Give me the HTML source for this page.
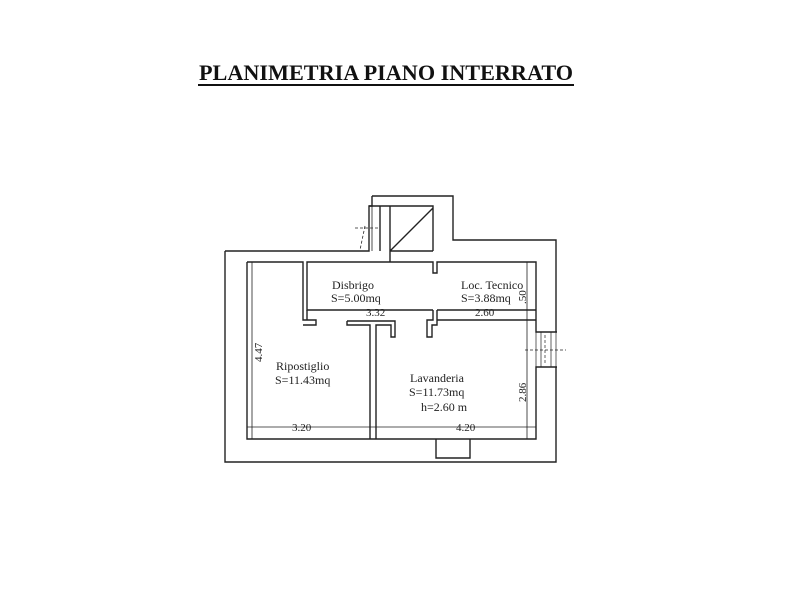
<!DOCTYPE html>
<html><head><meta charset="utf-8"><style>
html,body{margin:0;padding:0;background:#fff;}
svg{display:block}
</style></head><body>
<svg width="800" height="594" viewBox="0 0 800 594" xmlns="http://www.w3.org/2000/svg">
<rect width="800" height="594" fill="#fff"/>
<text x="199" y="80" font-family="Liberation Serif, serif" font-weight="bold" font-size="22" textLength="374" lengthAdjust="spacingAndGlyphs" fill="#111">PLANIMETRIA PIANO INTERRATO</text>
<rect x="198" y="84" width="376" height="2" fill="#111"/>
<g fill="none" stroke="#222" stroke-width="1.4">
<path d="M225 251 L369 251 L369 206 L372 206 L372 196 M372 196 L453 196 L453 240 L556 240 L556 332 M556 367 L556 462 L225 462 L225 251"/>
<path d="M369 206 L433 206 L433 251 M390 206 L390 262 M380 206 L380 251 M390 251 L433 251 M390 251 L433 208"/>
<path d="M372 196 L372 251" stroke-width="0.8"/>
<path d="M365 226 L360 250 M355 228 L380 228" stroke-width="0.8" stroke-dasharray="3,2"/>
<path d="M247 262 L303 262 L303 320 L316 320 L316 325 L303 325 M247 262 L247 439 L536 439 L536 367 L557 367 M536 332 L557 332 L536 332 L536 262 L437 262 L437 273 L433 273 L433 262 L307 262 L307 310 L433 310 M437 310 L536 310"/>
<path d="M307 310 L307 320"/>
<path d="M437 310 L437 320 L536 320 M433 310 L433 320 L427 320 L427 337 L432 337 L432 325 L437 325 L437 320"/>
<path d="M347 321 L347 325 L370 325 L370 439 M376 439 L376 325 L391 325 L391 337 L395 337 L395 321 L347 321"/>
<path d="M252 262 L252 439 M527 262 L527 439" stroke-width="0.8"/>
<path d="M247 427 L536 427" stroke-width="0.8"/>
<path d="M536 332 L536 367 M556 332 L556 367 M541 332 L541 367 M551 332 L551 367" stroke-width="0.7"/>
<path d="M436 439 L436 458 L470 458 L470 439"/>
<path d="M545 335 L545 365 M525 350 L566 350" stroke-width="0.7" stroke-dasharray="3,2"/>
</g>
<g font-family="Liberation Serif, serif" font-size="12" fill="#222">
<text x="332" y="289">Disbrigo</text>
<text x="331" y="302">S=5.00mq</text>
<text x="461" y="289">Loc. Tecnico</text>
<text x="461" y="302">S=3.88mq</text>
<text x="366" y="316" font-size="11">3.32</text>
<text x="475" y="316" font-size="11">2.60</text>
<text x="276" y="370">Ripostiglio</text>
<text x="275" y="384">S=11.43mq</text>
<text x="410" y="382">Lavanderia</text>
<text x="409" y="396">S=11.73mq</text>
<text x="421" y="411">h=2.60 m</text>
<text x="292" y="431" font-size="11">3.20</text>
<text x="456" y="431" font-size="11">4.20</text>
<text transform="translate(262,362) rotate(-90)" font-size="11">4.47</text>
<text transform="translate(526,402) rotate(-90)" font-size="11">2.86</text>
<text transform="translate(526,304) rotate(-90)" font-size="11">.50</text>
</g>
</svg>
</body></html>
